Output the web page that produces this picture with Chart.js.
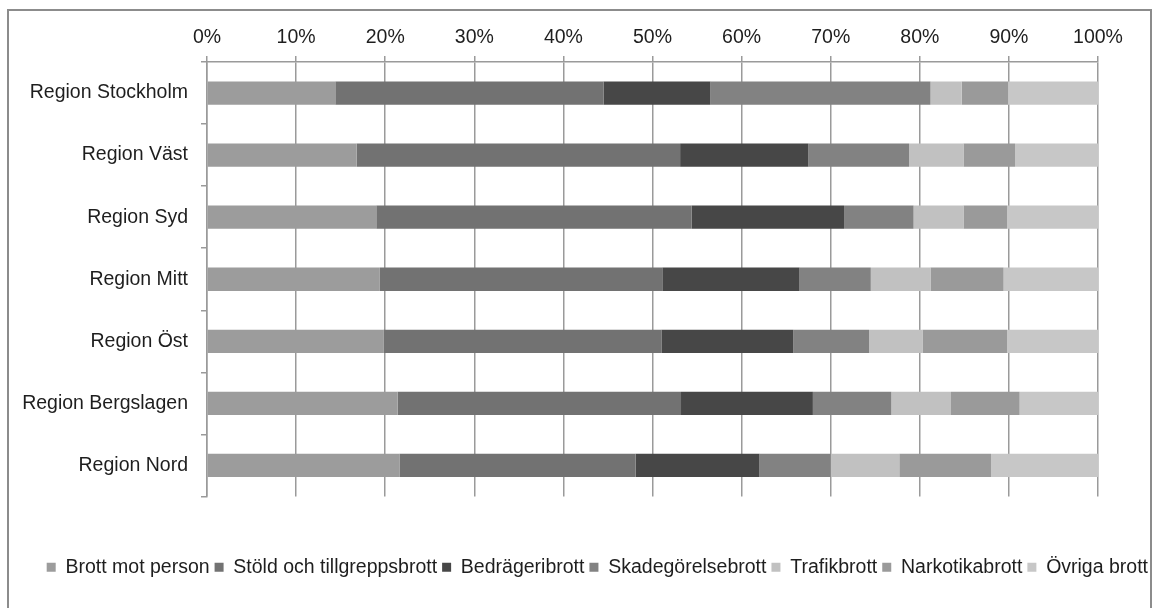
<!DOCTYPE html>
<html lang="sv">
<head>
<meta charset="utf-8">
<script src="https://cdn.jsdelivr.net/npm/chart.js@4"></script>
<style>
  html, body { margin: 0; padding: 0; background: #fff; }
  #ram { position: absolute; left: 7px; top: 9px; width: 1141px; height: 620px; border: 2px solid #8c8c8c; pointer-events: none; }
  #hold { position: absolute; left: 0; top: 0; width: 1156px; height: 608px; }
</style>
</head>
<body>
<div id="hold"><canvas id="grafik" width="1156" height="608"></canvas></div>
<div id="ram"></div>
<script>
// regioner (uppifrån och ned)
const regioner = ['Region Stockholm', 'Region Väst', 'Region Syd', 'Region Mitt', 'Region Öst', 'Region Bergslagen', 'Region Nord'];

// andel (%) per brottskategori, samma ordning som regioner
const brottMotPerson  = [14.4, 16.8, 19.0, 19.4, 19.8, 21.4, 21.6];
const stold           = [30.1, 36.3, 35.4, 31.7, 31.2, 31.8, 26.5];
const bedrageri       = [12.0, 14.4, 17.1, 15.4, 14.8, 14.8, 13.9];
const skadegorelse    = [24.7, 11.3,  7.8,  8.0,  8.5,  8.8,  8.0];
const trafik          = [ 3.5,  6.1,  5.6,  6.7,  6.0,  6.7,  7.7];
const narkotika       = [ 5.2,  5.8,  4.9,  8.2,  9.5,  7.7, 10.3];
const ovriga          = [10.1,  9.3, 10.2, 10.6, 10.2,  8.8, 12.0];

const serienamn = ['Brott mot person', 'Stöld och tillgreppsbrott', 'Bedrägeribrott', 'Skadegörelsebrott', 'Trafikbrott', 'Narkotikabrott', 'Övriga brott'];
const serievarden = [brottMotPerson, stold, bedrageri, skadegorelse, trafik, narkotika, ovriga];
const fargerna = ['#9c9c9c', '#727272', '#474747', '#828282', '#c1c1c1', '#9a9a9a', '#c7c7c7'];

const xTicks = [0, 10, 20, 30, 40, 50, 60, 70, 80, 90, 100];

const typsnitt = { family: "'Liberation Sans', Arial, sans-serif", size: 19.5 };
const gra = '#9a9a9a';

new Chart(document.getElementById('grafik'), {
    type: 'bar',
    data: {
        labels: regioner,
        datasets: serienamn.map((namn, i) => ({
            label: namn,
            data: serievarden[i],
            backgroundColor: fargerna[i],
            borderWidth: 0,
            xAxisID: 'x',
            yAxisID: 'y',
            categoryPercentage: 1,
            barPercentage: 0.375
        }))
    },
    options: {
        indexAxis: 'y',
        responsive: false,
        animation: false,
        layout: { padding: { top: 0, left: 0, right: 3, bottom: 21 } },
        plugins: {
            tooltip: { enabled: false },
            legend: {
                position: 'bottom',
                align: 'end',
                labels: {
                    font: typsnitt,
                    color: '#1e1e1e',
                    boxWidth: 9,
                    boxHeight: 9,
                    padding: 5
                }
            }
        },
        scales: {
            x: {
                position: 'top',
                stacked: true,
                min: 0,
                max: 100,
                afterBuildTicks: s => { s.ticks = xTicks.map(v => ({ value: v })); },
                afterFit: s => { s.height = 62; },
                ticks: {
                    font: typsnitt,
                    color: '#1e1e1e',
                    padding: 7,
                    callback: v => v + '%'
                },
                grid: { color: gra, lineWidth: 1.5, tickLength: 6 },
                border: { color: gra, width: 1.5 }
            },
            y: {
                stacked: true,
                afterFit: s => { s.width = 207; },
                ticks: { font: typsnitt, color: '#1e1e1e', padding: 13 },
                grid: { color: gra, lineWidth: 1.5, tickLength: 6, drawOnChartArea: false, offset: true },
                border: { color: gra, width: 1.5 }
            },
            padB: {
                type: 'linear',
                axis: 'x',
                position: 'bottom',
                afterFit: s => { s.height = 56; },
                ticks: { display: false },
                grid: { display: false },
                border: { display: false }
            },
            padR: {
                type: 'linear',
                axis: 'y',
                position: 'right',
                afterFit: s => { s.width = 55; },
                ticks: { display: false },
                grid: { display: false },
                border: { display: false }
            }
        }
    }
});
</script>
</body>
</html>
